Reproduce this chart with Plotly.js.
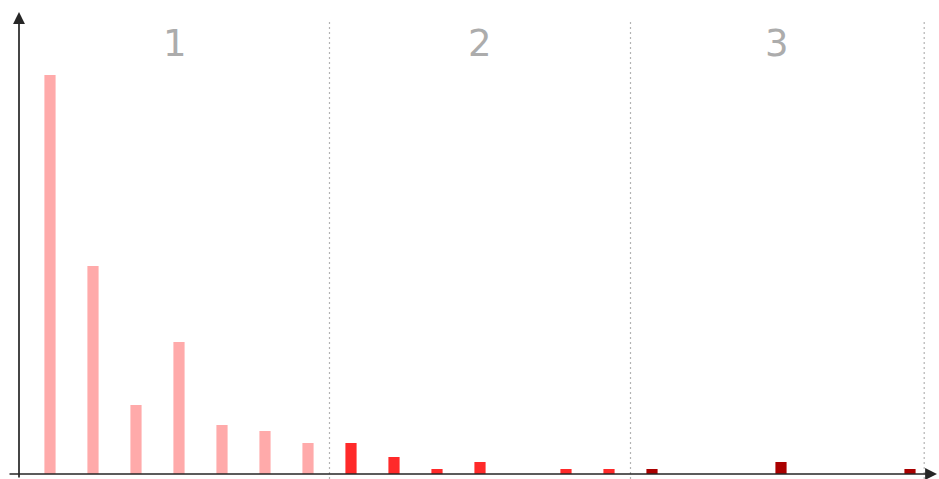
<!DOCTYPE html>
<html>
<head>
<meta charset="utf-8">
<script src="https://cdn.plot.ly/plotly-3.0.1.min.js"></script>
<style>html,body{margin:0;padding:0;background:#fff;}#chart{width:939px;height:479px;}</style>
</head>
<body>
<div id="chart"></div>
<script>
// Data
var groupLabels = ["1", "2", "3"];
var group1X = [0, 1, 2, 3, 4, 5, 6];
var group1Values = [399, 208, 69, 132, 49, 43, 31];
var group2X = [7, 8, 9, 10, 11, 12, 13];
var group2Values = [31, 17, 5, 12, 0, 5, 5];
var group3X = [14, 15, 16, 17, 18, 19, 20];
var group3Values = [5, 0, 0, 12, 0, 0, 5];
var separatorsX = [6.5, 13.5, 20.33];
var labelX = [2.9, 10, 16.9];

var colors = ["#ffaaaa", "#ff2a2a", "#aa0000"];
var barW = 0.26;

var traces = [
  {type: "bar", x: group1X, y: group1Values, width: barW, marker: {color: colors[0]}, hoverinfo: "x+y"},
  {type: "bar", x: group2X, y: group2Values, width: barW, marker: {color: colors[1]}, hoverinfo: "x+y"},
  {type: "bar", x: group3X, y: group3Values, width: barW, marker: {color: colors[2]}, hoverinfo: "x+y"}
];

var x0 = -50 / 43;
var xr = [x0, x0 + 939 / 43];
var yr = [-5, 474];
var yAxisX = (19 - 50) / 43;

var shapes = separatorsX.map(function (sx) {
  return {type: "line", xref: "x", yref: "y", x0: sx, x1: sx, y0: -5, y1: 455,
    line: {color: "#b3b3b3", width: 1.2, dash: "2px,3px"}, layer: "below"};
});

var annotations = groupLabels.map(function (t, i) {
  return {text: t, x: labelX[i], y: 431, xref: "x", yref: "y", showarrow: false,
    font: {family: "DejaVu Sans", size: 37, color: "#acacac"}, xanchor: "center", yanchor: "middle"};
});
// axis arrows
annotations.push({x: yAxisX, y: 462, ax: yAxisX, ay: -5, xref: "x", yref: "y", axref: "x", ayref: "y",
  text: "", showarrow: true, arrowhead: 2, arrowsize: 1.4, arrowwidth: 1.7, arrowcolor: "#262626", standoff: 0});
annotations.push({x: (937 - 50) / 43, y: 0, ax: (8 - 50) / 43, ay: 0, xref: "x", yref: "y", axref: "x", ayref: "y",
  text: "", showarrow: true, arrowhead: 2, arrowsize: 1.4, arrowwidth: 1.7, arrowcolor: "#262626", standoff: 0});

var layout = {
  width: 939, height: 479,
  margin: {l: 0, r: 0, t: 0, b: 0},
  paper_bgcolor: "#ffffff", plot_bgcolor: "#ffffff",
  showlegend: false,
  barmode: "overlay",
  xaxis: {range: xr, showgrid: false, zeroline: false, showticklabels: false, showline: false, ticks: ""},
  yaxis: {range: yr, showgrid: false, zeroline: false, showticklabels: false, showline: false, ticks: ""},
  shapes: shapes,
  annotations: annotations
};

Plotly.newPlot("chart", traces, layout, {displayModeBar: false, staticPlot: true});
</script>
</body>
</html>
